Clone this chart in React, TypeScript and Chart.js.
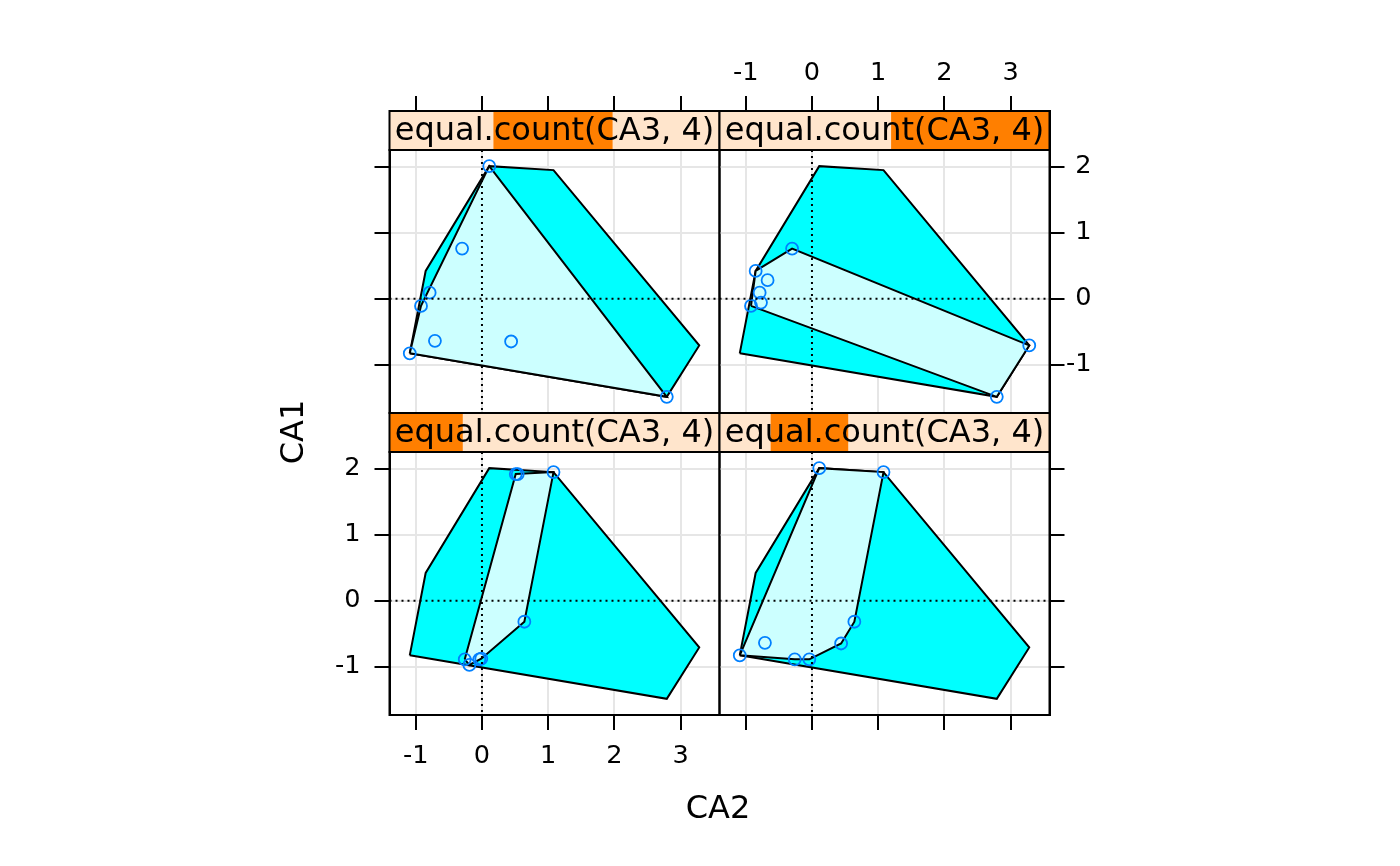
import React, { useEffect, useRef } from "react";
import { Chart, registerables } from "chart.js";

Chart.register(...registerables);

// ---------- data ----------
const xTicks = [-1, 0, 1, 2, 3];
const yTicks = [-1, 0, 1, 2];
const stripLabel = "equal.count(CA3, 4)";
const xTitle = "CA2";
const yTitle = "CA1";

// shingle intervals of CA3 (as fractions of the CA3 range) for levels 1..4
const shingleLevels: [number, number][] = [
  [0.0, 0.222],
  [0.155, 0.39],
  [0.315, 0.676],
  [0.52, 1.0],
];

// points (CA2 = x, CA1 = y) in each shingle level
const level1X = [0.51, 0.54, 1.08, 0.64, -0.01, -0.04, -0.26, -0.19];
const level1Y = [1.92, 1.92, 1.95, -0.32, -0.88, -0.89, -0.89, -0.975];
const level2X = [0.11, 1.08, 0.64, 0.44, -0.04, -0.26, -0.71, -1.09];
const level2Y = [2.01, 1.95, -0.32, -0.65, -0.89, -0.89, -0.64, -0.83];
const level3X = [0.11, -0.3, -0.79, -0.92, -0.71, 0.44, -1.09, 2.79];
const level3Y = [2.01, 0.76, 0.09, -0.11, -0.64, -0.65, -0.83, -1.49];
const level4X = [-0.3, -0.85, -0.67, -0.79, -0.77, -0.92, 3.28, 2.79];
const level4Y = [0.76, 0.42, 0.28, 0.09, -0.06, -0.11, -0.71, -1.49];

const levelsX = [level1X, level2X, level3X, level4X];
const levelsY = [level1Y, level2Y, level3Y, level4Y];

// ---------- style / layout ----------
const W = 1400;
const H = 866;
const PANEL_LEFT = 389.5;
const PANEL_TOP = 111;
const PANEL_W = 330;
const PANEL_H = 302;
const STRIP_H = 39;
const AX = 70;
const AX_RIGHT = 42;
const FONT = "DejaVu Sans";
const GRID = "#E6E6E6";
const OUTER_FILL = "#00FFFF";
const INNER_FILL = "#CCFFFF";
const POINT_COL = "#0080FF";
const STRIP_BG = "#FFE5CC";
const STRIP_FG = "#FF7F00";
const LW = 2;

type P = { x: number; y: number };

function toPoints(xs: number[], ys: number[]): P[] {
  return xs.map((x, i) => ({ x, y: ys[i] }));
}

function convexHull(pts: P[]): P[] {
  const p = [...pts].sort((a, b) => a.x - b.x || a.y - b.y);
  const cross = (o: P, a: P, b: P) => (a.x - o.x) * (b.y - o.y) - (a.y - o.y) * (b.x - o.x);
  const lower: P[] = [];
  for (const q of p) {
    while (lower.length >= 2 && cross(lower[lower.length - 2], lower[lower.length - 1], q) <= 0) lower.pop();
    lower.push(q);
  }
  const upper: P[] = [];
  for (let i = p.length - 1; i >= 0; i--) {
    const q = p[i];
    while (upper.length >= 2 && cross(upper[upper.length - 2], upper[upper.length - 1], q) <= 0) upper.pop();
    upper.push(q);
  }
  upper.pop();
  lower.pop();
  const h = lower.concat(upper);
  h.push(h[0]);
  return h;
}

const allX = levelsX.flat();
const allY = levelsY.flat();
const outerHull = convexHull(toPoints(allX, allY));

const dxMin = Math.min(...allX);
const dxMax = Math.max(...allX);
const dyMin = Math.min(...allY);
const dyMax = Math.max(...allY);
const xMin = dxMin - 0.07 * (dxMax - dxMin);
const xMax = dxMax + 0.07 * (dxMax - dxMin);
const yMin = dyMin - 0.07 * (dyMax - dyMin);
const yMax = dyMax + 0.07 * (dyMax - dyMin);
// extra room at the top of each chart area for the strip
const yMaxExt = yMax + ((yMax - yMin) * STRIP_H) / (PANEL_H - STRIP_H);

const decorPlugin = {
  id: "latticeDecor",
  afterDraw(chart: any) {
    const { ctx, chartArea: a, scales } = chart;
    const level: number = chart.options.plugins.latticeDecor.level;
    const sb = a.top + STRIP_H;
    const w = a.right - a.left;
    ctx.save();
    // reference lines h=0, v=0
    ctx.beginPath();
    ctx.rect(a.left, sb, w, a.bottom - sb);
    ctx.clip();
    ctx.setLineDash([2, 4]);
    ctx.lineWidth = LW;
    ctx.strokeStyle = "#000";
    const x0 = scales.x.getPixelForValue(0);
    const y0 = scales.y.getPixelForValue(0);
    ctx.beginPath();
    ctx.moveTo(a.left, y0);
    ctx.lineTo(a.right, y0);
    ctx.moveTo(x0, sb);
    ctx.lineTo(x0, a.bottom);
    ctx.stroke();
    ctx.restore();

    ctx.save();
    // strip
    ctx.fillStyle = STRIP_BG;
    ctx.fillRect(a.left, a.top, w, STRIP_H);
    const [f0, f1] = shingleLevels[level];
    ctx.fillStyle = STRIP_FG;
    ctx.fillRect(a.left + f0 * w, a.top, (f1 - f0) * w, STRIP_H);
    ctx.fillStyle = "#000";
    ctx.font = `32px "${FONT}"`;
    ctx.textAlign = "center";
    ctx.textBaseline = "middle";
    ctx.fillText(stripLabel, a.left + w / 2, a.top + STRIP_H / 2 + 1);
    // borders
    ctx.strokeStyle = "#000";
    ctx.lineWidth = LW;
    ctx.strokeRect(a.left, a.top, w, STRIP_H);
    ctx.strokeRect(a.left, sb, w, a.bottom - sb);
    ctx.restore();
  },
};

function Panel({ level, row, col }: { level: number; row: number; col: number }) {
  const ref = useRef<HTMLCanvasElement>(null);
  useEffect(() => {
    const isTop = row === 0;
    const isLeft = col === 0;
    const L = PANEL_LEFT + col * PANEL_W;
    const T = PANEL_TOP + row * PANEL_H;
    const R = L + PANEL_W;
    const B = T + PANEL_H;
    const showX = (row === 1 && col === 0) || (row === 0 && col === 1);
    const showY = showX;
    const yAx = isLeft ? AX : AX_RIGHT;
    const pts = toPoints(levelsX[level], levelsY[level]);
    const innerHull = convexHull(pts);
    const tickFont = { family: FONT, size: 25.6 };

    const chart = new Chart(ref.current!, {
      type: "scatter",
      data: {
        datasets: [
          {
            type: "scatter",
            data: pts,
            pointRadius: 6,
            pointBorderWidth: 1.8,
            pointBorderColor: POINT_COL,
            pointBackgroundColor: "rgba(0,0,0,0)",
            borderColor: POINT_COL,
            backgroundColor: "rgba(0,0,0,0)",
            order: 0,
          } as any,
          {
            type: "line",
            data: innerHull,
            showLine: true,
            fill: "shape",
            backgroundColor: INNER_FILL,
            borderColor: "#000",
            borderWidth: LW,
            pointRadius: 0,
            tension: 0,
            order: 1,
          } as any,
          {
            type: "line",
            data: outerHull,
            showLine: true,
            fill: "shape",
            backgroundColor: OUTER_FILL,
            borderColor: "#000",
            borderWidth: LW,
            pointRadius: 0,
            tension: 0,
            order: 2,
          } as any,
        ],
      },
      options: {
        responsive: false,
        animation: false,
        devicePixelRatio: 1,
        events: [],
        layout: {
          autoPadding: false,
          padding: {
            left: isLeft ? L - yAx : L,
            right: isLeft ? W - R : W - R - yAx,
            top: isTop ? T - AX : T,
            bottom: isTop ? H - B : H - B - AX,
          },
        },
        plugins: {
          legend: { display: false },
          tooltip: { enabled: false },
          latticeDecor: { level },
        } as any,
        scales: {
          x: {
            type: "linear",
            position: isTop ? "top" : "bottom",
            min: xMin,
            max: xMax,
            z: 1,
            afterBuildTicks: (s: any) => {
              s.ticks = xTicks.map((v) => ({ value: v }));
            },
            afterFit: (s: any) => {
              s.height = AX;
            },
            ticks: {
              display: showX,
              font: tickFont,
              color: "#000",
              padding: isTop ? 7 : 11,
              maxRotation: 0,
              autoSkip: false,
            },
            grid: {
              color: GRID,
              lineWidth: LW,
              drawTicks: true,
              tickLength: 15,
              tickColor: "#000",
              tickWidth: LW,
            },
            border: { display: true, color: "#000", width: LW },
          },
          y: {
            type: "linear",
            position: isLeft ? "left" : "right",
            min: yMin,
            max: yMaxExt,
            z: 1,
            afterBuildTicks: (s: any) => {
              s.ticks = yTicks.map((v) => ({ value: v }));
            },
            afterFit: (s: any) => {
              s.width = yAx;
            },
            ticks: {
              display: showY,
              font: tickFont,
              color: "#000",
              padding: 14,
              autoSkip: false,
              crossAlign: isLeft ? "near" : "far",
            },
            grid: {
              color: GRID,
              lineWidth: LW,
              drawTicks: true,
              tickLength: 15,
              tickColor: "#000",
              tickWidth: LW,
            },
            border: { display: true, color: "#000", width: LW },
          },
        },
      } as any,
      plugins: [decorPlugin],
    });
    return () => chart.destroy();
  }, [level, row, col]);
  return (
    <canvas
      ref={ref}
      width={W}
      height={H}
      style={{ position: "absolute", left: 0, top: 0, width: W, height: H }}
    />
  );
}

// level 1 bottom-left, 2 bottom-right, 3 top-left, 4 top-right
const panels = [
  { level: 0, row: 1, col: 0 },
  { level: 1, row: 1, col: 1 },
  { level: 2, row: 0, col: 0 },
  { level: 3, row: 0, col: 1 },
];

export default function App() {
  return (
    <div
      style={{
        position: "absolute",
        left: 0,
        top: 0,
        width: W,
        height: H,
        background: "#fff",
        fontFamily: `"${FONT}"`,
        color: "#000",
      }}
    >
      {panels.map((p) => (
        <Panel key={p.level} {...p} />
      ))}
      <div
        style={{
          position: "absolute",
          left: 518,
          top: 787,
          width: 400,
          height: 40,
          lineHeight: "40px",
          fontSize: 32,
          textAlign: "center",
        }}
      >
        {xTitle}
      </div>
      <div
        style={{
          position: "absolute",
          left: 192,
          top: 412,
          width: 200,
          height: 40,
          lineHeight: "40px",
          fontSize: 32,
          textAlign: "center",
          transform: "rotate(-90deg)",
        }}
      >
        {yTitle}
      </div>
    </div>
  );
}
